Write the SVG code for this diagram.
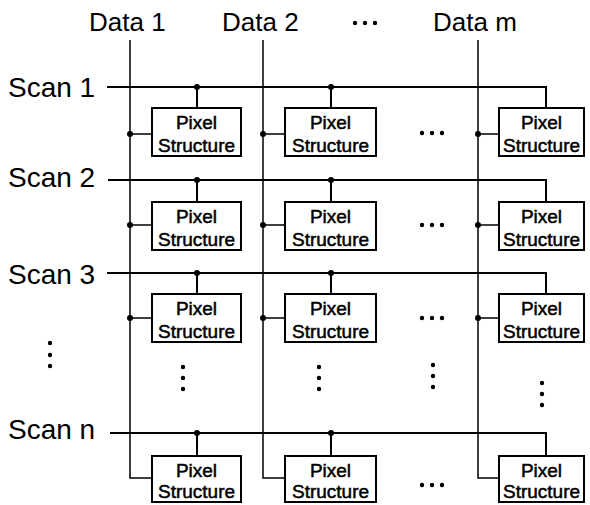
<svg xmlns="http://www.w3.org/2000/svg" width="590" height="505" viewBox="0 0 590 505">
<style>
.lbl{font-family:"Liberation Sans",Arial,sans-serif;fill:#000}
.box{fill:#fff;stroke:#000;stroke-width:2}
.bt{font-family:"Liberation Sans",Arial,sans-serif;font-size:19px;fill:#000;stroke:#000;stroke-width:0.5;text-anchor:middle}
.scan{stroke:#000;stroke-width:2;fill:none}
.data{stroke:#000;stroke-width:1.5;fill:none}
.tap{stroke:#000;stroke-width:2;fill:none}
.dot{fill:#000}
</style>
<rect width="590" height="505" fill="#fff"/>
<g id="labels">
<text class="lbl" x="89" y="31" font-size="26">Data 1</text>
<text class="lbl" x="222" y="31" font-size="26">Data 2</text>
<text class="lbl" x="433" y="31" font-size="26">Data m</text>
<text class="lbl" x="8" y="97" font-size="28">Scan 1</text>
<text class="lbl" x="8" y="187" font-size="28">Scan 2</text>
<text class="lbl" x="8" y="284" font-size="28">Scan 3</text>
<text class="lbl" x="8" y="439" font-size="28">Scan n</text>
</g>
<g id="ellipses" class="dot">
<circle cx="355" cy="23" r="2.2"/><circle cx="365" cy="23" r="2.2"/><circle cx="375" cy="23" r="2.2"/>
<circle cx="50" cy="343" r="2.2"/><circle cx="50" cy="355" r="2.2"/><circle cx="50" cy="366" r="2.2"/>
<circle cx="422" cy="133" r="2.2"/><circle cx="432" cy="133" r="2.2"/><circle cx="442" cy="133" r="2.2"/>
<circle cx="422" cy="225" r="2.2"/><circle cx="432" cy="225" r="2.2"/><circle cx="442" cy="225" r="2.2"/>
<circle cx="422" cy="318" r="2.2"/><circle cx="432" cy="318" r="2.2"/><circle cx="442" cy="318" r="2.2"/>
<circle cx="422" cy="485" r="2.2"/><circle cx="432" cy="485" r="2.2"/><circle cx="442" cy="485" r="2.2"/>
<circle cx="183" cy="367" r="2.2"/><circle cx="183" cy="378" r="2.2"/><circle cx="183" cy="389" r="2.2"/>
<circle cx="319" cy="367" r="2.2"/><circle cx="319" cy="378" r="2.2"/><circle cx="319" cy="389" r="2.2"/>
<circle cx="433" cy="365" r="2.2"/><circle cx="433" cy="376" r="2.2"/><circle cx="433" cy="387" r="2.2"/>
<circle cx="542" cy="383" r="2.2"/><circle cx="542" cy="394" r="2.2"/><circle cx="542" cy="405" r="2.2"/>
</g>
<g id="connectors">
<path class="data" d="M130 40 V478 H152"/>
<path class="data" d="M263 40 V478 H285"/>
<path class="data" d="M478 40 V478 H499"/>
<path class="scan" d="M107 87 H546 V108"/>
<path class="scan" d="M108 180 H546 V202"/>
<path class="scan" d="M107 273 H546 V294"/>
<path class="scan" d="M110 433 H546 V456"/>
<path class="tap" d="M197 87 V108 M331 87 V108 M197 180 V202 M331 180 V202 M197 273 V294 M331 273 V294 M197 433 V456 M331 433 V456"/>
<path class="data" d="M130 134 H152 M263 134 H285 M478 134 H499 M130 225 H152 M263 225 H285 M478 225 H499 M130 318 H152 M263 318 H285 M478 318 H499"/>
<g class="dot">
<circle cx="197" cy="87" r="3"/><circle cx="331" cy="87" r="3"/>
<circle cx="197" cy="180" r="3"/><circle cx="331" cy="180" r="3"/>
<circle cx="197" cy="273" r="3"/><circle cx="331" cy="273" r="3"/>
<circle cx="197" cy="433" r="3"/><circle cx="331" cy="433" r="3"/>
<circle cx="130" cy="134" r="3"/><circle cx="263" cy="134" r="3"/><circle cx="478" cy="134" r="3"/>
<circle cx="130" cy="225" r="3"/><circle cx="263" cy="225" r="3"/><circle cx="478" cy="225" r="3"/>
<circle cx="130" cy="318" r="3"/><circle cx="263" cy="318" r="3"/><circle cx="478" cy="318" r="3"/>
</g>
</g>
<g id="p11"><rect class="box" x="152" y="108" width="89" height="48"/><text class="bt" x="196.5" y="129">Pixel</text><text class="bt" x="196.5" y="152">Structure</text></g>
<g id="p12"><rect class="box" x="285" y="108" width="91" height="48"/><text class="bt" x="330.5" y="129">Pixel</text><text class="bt" x="330.5" y="152">Structure</text></g>
<g id="p1m"><rect class="box" x="499" y="108" width="85" height="48"/><text class="bt" x="541.5" y="129">Pixel</text><text class="bt" x="541.5" y="152">Structure</text></g>
<g id="p21"><rect class="box" x="152" y="202" width="89" height="48"/><text class="bt" x="196.5" y="223">Pixel</text><text class="bt" x="196.5" y="246">Structure</text></g>
<g id="p22"><rect class="box" x="285" y="202" width="91" height="48"/><text class="bt" x="330.5" y="223">Pixel</text><text class="bt" x="330.5" y="246">Structure</text></g>
<g id="p2m"><rect class="box" x="499" y="202" width="85" height="48"/><text class="bt" x="541.5" y="223">Pixel</text><text class="bt" x="541.5" y="246">Structure</text></g>
<g id="p31"><rect class="box" x="152" y="294" width="89" height="48"/><text class="bt" x="196.5" y="315">Pixel</text><text class="bt" x="196.5" y="338">Structure</text></g>
<g id="p32"><rect class="box" x="285" y="294" width="91" height="48"/><text class="bt" x="330.5" y="315">Pixel</text><text class="bt" x="330.5" y="338">Structure</text></g>
<g id="p3m"><rect class="box" x="499" y="294" width="85" height="48"/><text class="bt" x="541.5" y="315">Pixel</text><text class="bt" x="541.5" y="338">Structure</text></g>
<g id="pn1"><rect class="box" x="152" y="456" width="89" height="46"/><text class="bt" x="196.5" y="477">Pixel</text><text class="bt" x="196.5" y="498">Structure</text></g>
<g id="pn2"><rect class="box" x="285" y="456" width="91" height="46"/><text class="bt" x="330.5" y="477">Pixel</text><text class="bt" x="330.5" y="498">Structure</text></g>
<g id="pnm"><rect class="box" x="499" y="456" width="85" height="46"/><text class="bt" x="541.5" y="477">Pixel</text><text class="bt" x="541.5" y="498">Structure</text></g>
</svg>
